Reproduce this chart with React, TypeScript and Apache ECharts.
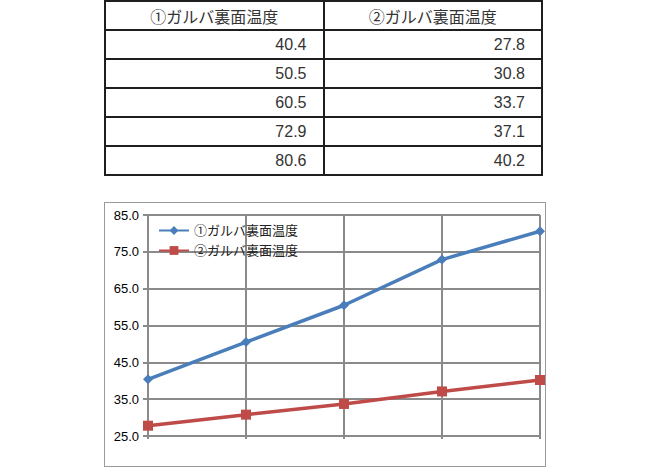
import { useEffect, useRef } from 'react';
import * as echarts from 'echarts';

const seriesNames = ['①ガルバ裏面温度', '②ガルバ裏面温度'];
const categories = ['1', '2', '3', '4', '5'];
const galva1 = [40.4, 50.5, 60.5, 72.9, 80.6];
const galva2 = [27.8, 30.8, 33.7, 37.1, 40.2];

const fontStack = '"Liberation Sans", Arial, "Noto Sans CJK JP", sans-serif';

const TempChart = () => {
    const chartRef = useRef<HTMLDivElement>(null);

    useEffect(() => {
        if (!chartRef.current) return;
        const chart = echarts.init(chartRef.current, null, { renderer: 'svg' });

        const option: echarts.EChartsOption = {
            animation: false,
            textStyle: { fontFamily: fontStack },
            legend: {
                left: 48,
                top: 16,
                orient: 'vertical',
                itemWidth: 30,
                itemHeight: 11,
                itemGap: 7,
                textStyle: { fontSize: 13, color: '#222', fontFamily: fontStack },
                data: seriesNames
            },
            grid: {
                left: 43,
                right: 5,
                top: 12,
                bottom: 30
            },
            xAxis: {
                type: 'category',
                boundaryGap: false,
                data: categories,
                axisLine: { lineStyle: { color: '#8a8a8a', width: 2 } },
                axisTick: { show: true, length: 3, lineStyle: { color: '#8a8a8a', width: 2 } },
                axisLabel: { show: false },
                splitLine: { show: true, lineStyle: { color: '#8a8a8a', width: 2 } }
            },
            yAxis: {
                type: 'value',
                min: 25,
                max: 85,
                interval: 10,
                axisLine: { show: true, lineStyle: { color: '#8a8a8a', width: 2 } },
                axisTick: { show: true, length: 5, lineStyle: { color: '#8a8a8a', width: 2 } },
                axisLabel: {
                    color: '#000',
                    fontSize: 13,
                    margin: 9,
                    formatter: (v: number) => v.toFixed(1)
                },
                splitLine: { show: true, lineStyle: { color: '#8a8a8a', width: 2 } }
            },
            series: [
                {
                    name: seriesNames[0],
                    type: 'line',
                    data: galva1,
                    symbol: 'diamond',
                    symbolSize: 10,
                    lineStyle: { width: 3.5, color: '#4a7ebb' },
                    itemStyle: { color: '#4a7ebb' }
                },
                {
                    name: seriesNames[1],
                    type: 'line',
                    data: galva2,
                    symbol: 'rect',
                    symbolSize: 10,
                    lineStyle: { width: 3.5, color: '#be4b48' },
                    itemStyle: { color: '#be4b48' }
                }
            ]
        };

        chart.setOption(option);

        return () => {
            chart.dispose();
        };
    }, []);

    return <div ref={chartRef} style={{ width: '440px', height: '263px' }} />;
};

const cellStyle: React.CSSProperties = {
    border: '2px solid #1e1e1e',
    height: '27px',
    padding: '0 16px',
    fontSize: '16px',
    color: '#333',
    fontFamily: fontStack,
    textAlign: 'right',
    width: '50%'
};

export default function App() {
    return (
        <div style={{ position: 'fixed', left: 0, top: 0, width: '650px', height: '467px', background: '#fff' }}>
            <table
                style={{
                    position: 'absolute',
                    left: '104px',
                    top: '0px',
                    width: '439px',
                    borderCollapse: 'collapse',
                    tableLayout: 'fixed'
                }}
            >
                <tbody>
                    <tr>
                        {seriesNames.map(n => (
                            <td key={n} style={{ ...cellStyle, textAlign: 'center' }}>{n}</td>
                        ))}
                    </tr>
                    {galva1.map((v, i) => (
                        <tr key={i}>
                            <td style={cellStyle}>{v.toFixed(1)}</td>
                            <td style={cellStyle}>{galva2[i].toFixed(1)}</td>
                        </tr>
                    ))}
                </tbody>
            </table>
            <div
                style={{
                    position: 'absolute',
                    left: '104px',
                    top: '202px',
                    width: '442px',
                    height: '265px',
                    border: '1px solid #9a9a9a',
                    boxSizing: 'border-box'
                }}
            >
                <TempChart />
            </div>
        </div>
    );
}
